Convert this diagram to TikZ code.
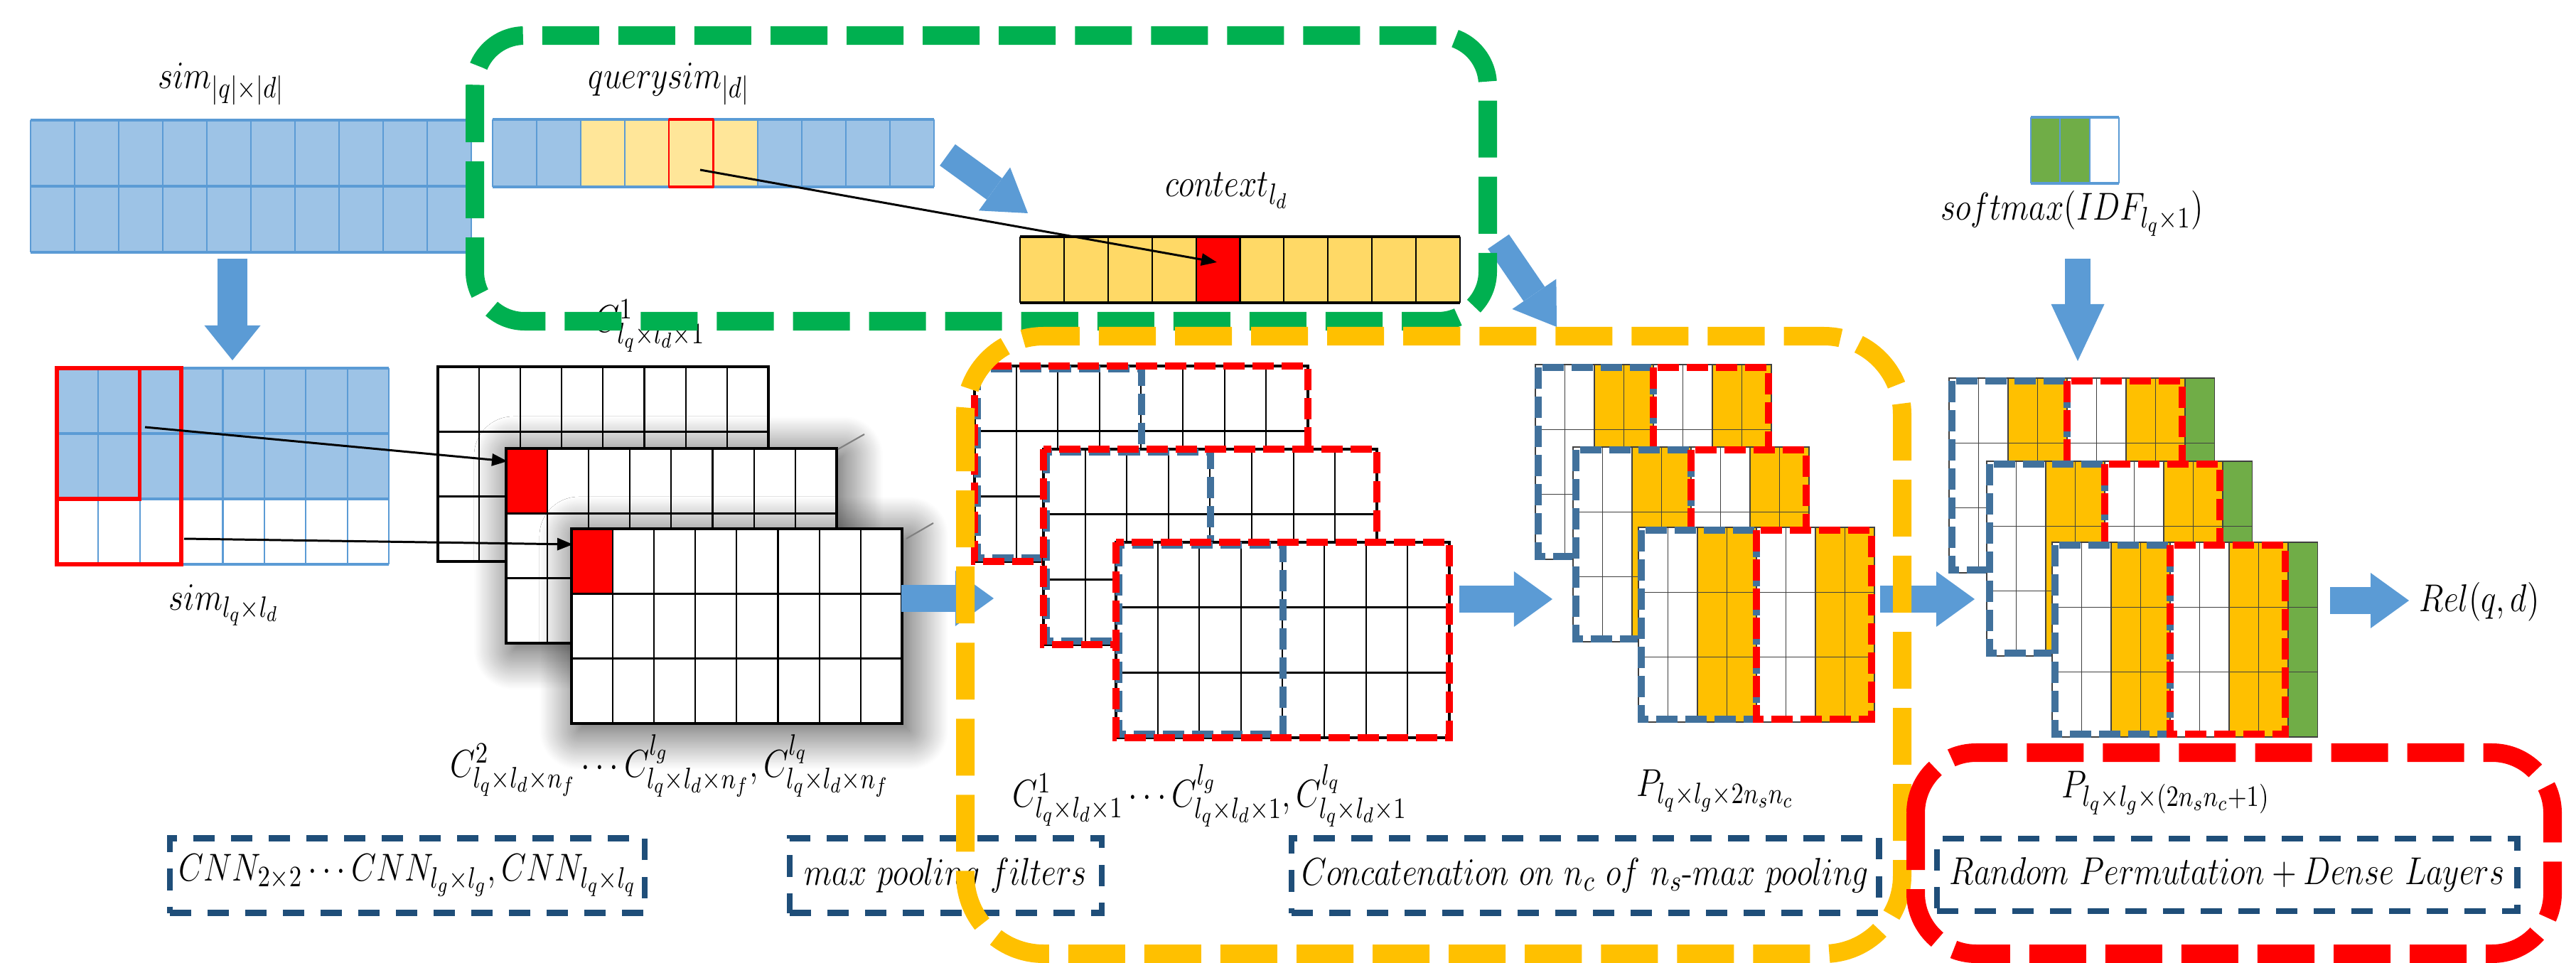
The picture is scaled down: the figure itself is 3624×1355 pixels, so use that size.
\documentclass[tikz,border=0pt]{standalone}
\usepackage{graphicx}
\usetikzlibrary{arrows.meta,shadows.blur}
\DeclareMathSizes{14.4}{14.4}{11}{8.5}
\definecolor{cblue}{HTML}{5B9BD5}
\definecolor{lblue}{HTML}{9DC3E6}
\definecolor{lyel}{HTML}{FFE699}
\definecolor{ctxyel}{HTML}{FFD966}
\definecolor{gold}{HTML}{FFC000}
\definecolor{ggreen}{HTML}{00B050}
\definecolor{lgreen}{HTML}{70AD47}
\definecolor{dblue}{HTML}{41719C}
\definecolor{nblue}{HTML}{1F4E79}
\newcommand{\mt}[1]{\scalebox{0.9}[1.08]{$#1$}}
\tikzset{
  lbl/.style={inner sep=0pt, anchor=base, font=\Large},
  bigbox/.style={line width=0.26cm, dash pattern=on 0.8cm off 0.27cm},
  smalldash/.style={line width=0.1cm, dash pattern=on 0.3cm off 0.11cm},
  annot/.style={draw=nblue, line width=0.085cm, dash pattern=on 0.3cm off 0.23cm, inner sep=0pt, font=\Large},
  barrow/.style={draw=cblue, line width=0.38cm, -{Triangle[width=0.78cm,length=0.54cm,line width=0pt]}},
  tarrow/.style={draw=black, line width=0.85pt, -{Triangle[width=0.17cm,length=0.22cm]}},
  gline/.style={draw=black!75, line width=0.4pt},
  shad/.style={blur shadow={shadow blur radius=0.55cm, shadow blur steps=30, shadow xshift=0.1cm, shadow yshift=-0.1cm, shadow opacity=75}},
  pics/cnn/.style={code={
    \fill[white] (0,0) rectangle (465,274);
    \fill[#1] (0,0) rectangle (58.1,91.3);
    \foreach \k in {1,...,7} \draw[line width=0.6pt] (\k*58.1,0) -- (\k*58.1,274);
    \foreach \k in {1,2} \draw[line width=0.8pt] (0,\k*91.3) -- (465,\k*91.3);
    \draw[line width=0.9pt] (0,0) rectangle (465,274);
  }},
  pics/mp/.style={code={
    \fill[white] (0,0) rectangle (469,275);
    \foreach \k in {1,...,7} \draw[line width=0.55pt] (\k*58.6,0) -- (\k*58.6,275);
    \foreach \k in {1,2} \draw[line width=0.9pt] (0,\k*91.7) -- (469,\k*91.7);
    \draw[line width=0.9pt] (0,0) rectangle (469,275);
    \draw[dblue, smalldash] (4,4) rectangle (234.5,270);
    \draw[red, smalldash] (0,0) rectangle (469,275);
  }},
  pics/pp/.style={code={
    \fill[white] (0,0) rectangle (332,274);
    \foreach \k in {2,3,6,7} \fill[gold] (\k*41.5,0) rectangle ++(41.5,274);
    \foreach \k in {1,...,7} \draw[gline] (\k*41.5,0) -- (\k*41.5,274);
    \foreach \k in {1,2} \draw[gline] (0,\k*91.3) -- (332,\k*91.3);
    \draw[gline] (0,0) rectangle (332,274);
    \draw[dblue, smalldash] (4,4) rectangle (166,270);
    \draw[red, smalldash] (166,4) rectangle (328,270);
  }},
  pics/ff/.style={code={
    \fill[white] (0,0) rectangle (373.5,274);
    \foreach \k in {2,3,6,7} \fill[gold] (\k*41.5,0) rectangle ++(41.5,274);
    \fill[lgreen] (332,0) rectangle (373.5,274);
    \foreach \k in {1,...,8} \draw[gline] (\k*41.5,0) -- (\k*41.5,274);
    \foreach \k in {1,2} \draw[gline] (0,\k*91.3) -- (373.5,\k*91.3);
    \draw[gline] (0,0) rectangle (373.5,274);
    \draw[dblue, smalldash] (4,4) rectangle (166,270);
    \draw[red, smalldash] (166,4) rectangle (328,270);
  }},
}
\begin{document}
\begin{tikzpicture}[x=0.01cm,y=-0.01cm]
\useasboundingbox (0,0) rectangle (3624,1355);

% sim |q| x |d|
\fill[lblue] (43,169) rectangle (663,355);
\foreach \i in {0,...,10} \draw[cblue, line width=0.6pt] (43+\i*62,169) -- (43+\i*62,355);
\foreach \j in {169,262,355} \draw[cblue, line width=1.2pt] (43,\j) -- (663,\j);
\node[lbl] (simlbl) at (311,125) {\mt{sim_{|q|\times|d|}}};

% querysim
\foreach \i/\c in {0/lblue,1/lblue,2/lyel,3/lyel,4/lyel,5/lyel,6/lblue,7/lblue,8/lblue,9/lblue}
  \fill[\c] (693+\i*62.1,168) rectangle ++(62.1,95);
\foreach \i in {0,...,10} \draw[cblue, line width=0.6pt] (693+\i*62.1,168) -- ++(0,95);
\foreach \j in {168,263} \draw[cblue, line width=1.2pt] (693,\j) -- (1314,\j);
\draw[red, line width=0.6pt] (941.4,168) rectangle (1003.5,263);
\draw[red, line width=1.3pt] (941.4,168) -- (1003.5,168) (941.4,263) -- (1003.5,263);
\node[lbl] (qslbl) at (941,125) {\mt{querysim_{|d|}}};
\coordinate (qcell) at (985,239);

% context
\fill[ctxyel] (1435,333) rectangle (2054,426);
\fill[red] (1682.6,333) rectangle (1744.5,426);
\foreach \i in {0,...,10} \draw[line width=0.6pt] (1435+\i*61.9,333) -- ++(0,93);
\foreach \j in {333,426} \draw[line width=1.2pt] (1435,\j) -- (2054,\j);
\node[lbl] (ctxlbl) at (1726,277) {\mt{context_{l_d}}};
\coordinate (ccell) at (1712,369);
\draw[tarrow] (qcell) -- (ccell);

% IDF
\fill[lgreen] (2857,165) rectangle (2939.6,258);
\foreach \i in {0,...,3} \draw[cblue, line width=0.6pt] (2857+\i*41.3,165) -- ++(0,93);
\foreach \j in {165,258} \draw[cblue, line width=1.2pt] (2857,\j) -- (2981,\j);
\node[lbl] (smlbl) at (2915,310) {\mt{softmax(IDF_{l_q\times 1})}};

% sim lq x ld
\fill[lblue] (80,518) rectangle (547,702);
\foreach \i in {0,...,8} \draw[cblue, line width=0.6pt] (80+\i*58.375,518) -- ++(0,276);
\foreach \j in {518,610,702,794} \draw[cblue, line width=1.2pt] (80,\j) -- (547,\j);
\draw[red, line width=1.5pt] (80,518) rectangle (255.1,794);
\draw[red, line width=1.5pt] (80,518) rectangle (196.75,702);
\node[lbl] (simllbl) at (315,858) {\mt{sim_{l_q\times l_d}}};

% CNN stack
\node[lbl] (c1lbl) at (914,468) {\mt{C^{1}_{l_q\times l_d\times 1}}};
\pic at (616,516) {cnn=white};
\fill[white, shad] (712,631) rectangle ++(465,274);
\pic at (712,631) {cnn=red};
\draw[gray, line width=0.6pt] (1179,632) -- (1216,611);
\fill[white, shad] (804,744) rectangle ++(465,274);
\pic at (804,744) {cnn=red};
\draw[gray, line width=0.6pt] (1275,758) -- (1313,736);
\coordinate (s2) at (204,601); \coordinate (l2red) at (714,649);
\coordinate (s3) at (259,758); \coordinate (l3red) at (806,766);
\draw[tarrow] (s2) -- (l2red);
\draw[tarrow] (s3) -- (l3red);
\node[lbl] (cnnlbl) at (942,1093) {\mt{C^{2}_{l_q\times l_d\times n_f}\cdots C^{l_g}_{l_q\times l_d\times n_f},C^{l_q}_{l_q\times l_d\times n_f}}};

% max pooling stack
\pic at (1371,515) {mp};
\pic at (1468,632) {mp};
\pic at (1570,763) {mp};
\node[lbl] (mplbl) at (1702,1135) {\mt{C^{1}_{l_q\times l_d\times 1}\cdots C^{l_g}_{l_q\times l_d\times 1},C^{l_q}_{l_q\times l_d\times 1}}};

% P stack
\pic at (2160,513) {pp};
\pic at (2213,629) {pp};
\pic at (2305,742) {pp};
\node[lbl] (plbl) at (2413,1120) {\mt{P_{l_q\times l_g\times 2n_sn_c}}};

% final stack
\pic at (2742,532) {ff};
\pic at (2795,649) {ff};
\pic at (2887,763) {ff};
\node[lbl] (flbl) at (3047,1122) {\mt{P_{l_q\times l_g\times (2n_sn_c+1)}}};
\node[lbl] (rel) at (3488,860) {\mt{Rel(q,d)}};

% block arrows
\coordinate (a1s) at (327,364); \coordinate (a1e) at (327,507);
\coordinate (a2s) at (1333,218); \coordinate (a2e) at (1446,300);
\coordinate (a3s) at (2108,340); \coordinate (a3e) at (2190,460);
\coordinate (a4s) at (1268,842); \coordinate (a4e) at (1398,842);
\coordinate (a5s) at (2053,843); \coordinate (a5e) at (2184,843);
\coordinate (a6s) at (2645,843); \coordinate (a6e) at (2778,843);
\coordinate (a7s) at (2923,364); \coordinate (a7e) at (2923,508);
\coordinate (a8s) at (3278,845); \coordinate (a8e) at (3389,845);
\draw[barrow, line width=0.41cm, -{Triangle[width=0.79cm,length=0.49cm,line width=0pt]}] (a1s) -- (a1e);
\draw[barrow, line width=0.37cm, -{Triangle[width=0.75cm,length=0.58cm,line width=0pt]}] (a2s) -- (a2e);
\draw[barrow, line width=0.36cm, -{Triangle[width=0.75cm,length=0.56cm,line width=0pt]}] (a3s) -- (a3e);
\draw[barrow] (a4s) -- (a4e);
\draw[barrow] (a5s) -- (a5e);
\draw[barrow] (a6s) -- (a6e);
\draw[barrow, line width=0.36cm, -{Triangle[width=0.75cm,length=0.8cm,line width=0pt]}] (a7s) -- (a7e);
\draw[barrow] (a8s) -- (a8e);

% annotation boxes
\node[annot, minimum width=6.68cm, minimum height=1.05cm] (box1) at (573,1232) {\mt{CNN_{2\times 2}\cdots CNN_{l_g\times l_g},CNN_{l_q\times l_q}}};
\node[annot, minimum width=4.39cm, minimum height=1.05cm] (box2) at (1330.5,1232) {\mt{max\ pooling\ filters}};
\node[annot, minimum width=8.26cm, minimum height=1.05cm] (box3) at (2230,1232) {\mt{Concatenation\ on\ n_c\ of\ n_s\mbox{-}max\ pooling}};
\node[annot, minimum width=8.16cm, minimum height=1.02cm] (box4) at (3133,1231) {\mt{Random\ Permutation+Dense\ Layers}};

% big dashed groups
\draw[ggreen, bigbox, rounded corners=0.7cm] (668,50) rectangle (2093,452);
\draw[gold, bigbox, rounded corners=1.1cm] (1358,473) rectangle (2676,1342);
\draw[red, bigbox, rounded corners=0.85cm] (2695,1059) rectangle (3591,1342);
\end{tikzpicture}
\end{document}
